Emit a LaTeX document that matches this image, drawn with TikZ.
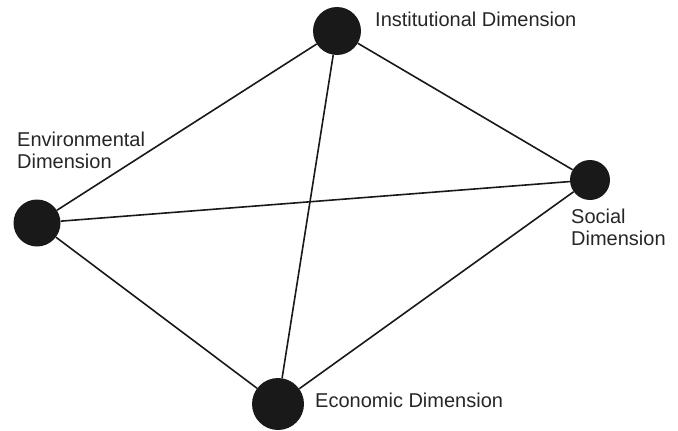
\documentclass[tikz,border=0pt]{standalone}
\usepackage{fontspec}
\setmainfont{Liberation Sans}
\begin{document}
\begin{tikzpicture}[x=1pt,y=-1pt,
  dot/.style={circle,fill=black!90,draw=none,inner sep=0pt,minimum size=#1},
  link/.style={line width=1.6pt,black!90},
  lbl/.style={inner sep=0pt,align=left,font=\fontsize{20}{21.5}\selectfont,text=black!85}]
  \useasboundingbox (0,0) rectangle (678,431);
  % the four dimensions
  \node[dot=48pt] (inst) at (337,31) {};
  \node[dot=47pt] (env) at (37,223) {};
  \node[dot=40pt] (soc) at (590,180) {};
  \node[dot=52pt] (eco) at (278,404) {};
  % every pair of dimensions is linked
  \draw[link] (inst) -- (env);
  \draw[link] (inst) -- (soc);
  \draw[link] (inst) -- (eco);
  \draw[link] (env) -- (soc);
  \draw[link] (env) -- (eco);
  \draw[link] (soc) -- (eco);
  % labels (multi-line nodes are placed by their last baseline)
  \node[lbl,anchor=base west] (linst) at (375,26) {Institutional Dimension};
  \node[lbl,anchor=base west] (lenv) at (17,168) {Environmental\\Dimension};
  \node[lbl,anchor=base west] (lsoc) at (571,245) {Social\\Dimension};
  \node[lbl,anchor=base west] (leco) at (315,407) {Economic Dimension};
\end{tikzpicture}
\end{document}
